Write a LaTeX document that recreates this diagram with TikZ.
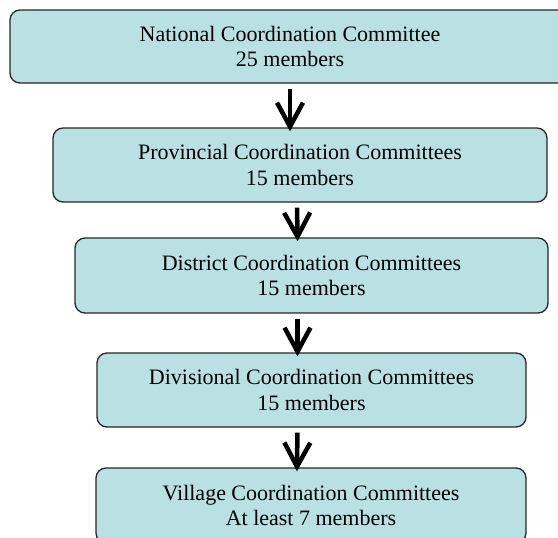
\documentclass[tikz,border=0pt]{standalone}
\usepackage{fontspec}
\setmainfont{Liberation Serif}
\usetikzlibrary{arrows.meta}
\definecolor{boxfill}{RGB}{185,224,227}

\begin{document}
\begin{tikzpicture}[x=1pt,y=-1pt,
  level/.style={draw=black!85,line width=1.3pt,fill=boxfill,rounded corners=10pt,align=center,inner sep=0pt,font=\fontsize{22}{25.5}\selectfont},
  down/.style={line width=4.5pt,-{Straight Barb[length=24pt,width=26pt]},shorten <=5pt,shorten >=-4pt}]

\useasboundingbox (0,0) rectangle (558,538);

\node[level,minimum width=560pt,minimum height=73pt] (national) at (290,46.5) {National Coordination Committee\\25 members};
\node[level,minimum width=494pt,minimum height=74pt] (provincial) at (300,165) {Provincial Coordination Committees\\15 members};
\node[level,minimum width=473pt,minimum height=75pt] (district) at (311.5,275.5) {District Coordination Committees\\15 members};
\node[level,minimum width=429pt,minimum height=74pt] (divisional) at (311.5,390) {Divisional Coordination Committees\\15 members};
\node[level,minimum width=430pt,minimum height=75pt] (village) at (311,505.5) {Village Coordination Committees\\At least 7 members};

\draw[down] (national.south) -- ([xshift=-10pt]provincial.north);
\draw[down] ([xshift=-3pt]provincial.south) -- ([xshift=-14pt]district.north);
\draw[down] ([xshift=-14pt]district.south) -- ([xshift=-14pt]divisional.north);
\draw[down] ([xshift=-14pt]divisional.south) -- ([xshift=-14pt]village.north);
\end{tikzpicture}
\end{document}
